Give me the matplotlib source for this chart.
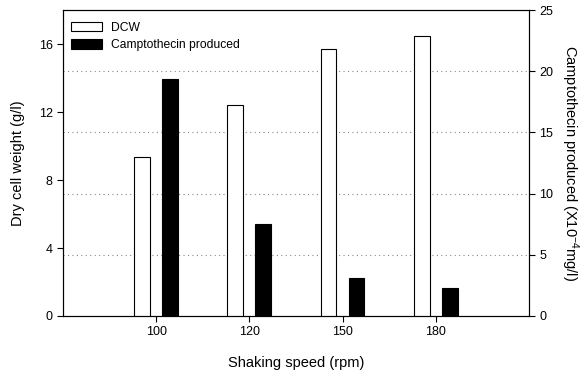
import matplotlib
matplotlib.use("Agg")
import matplotlib.pyplot as plt
import numpy as np

plt.rcParams['font.family'] = ['Liberation Sans', 'DejaVu Sans']
plt.rcParams['mathtext.fontset'] = 'custom'
plt.rcParams['mathtext.rm'] = 'Liberation Sans'
plt.rcParams['mathtext.it'] = 'Liberation Sans'

# data
speeds = ['100', '120', '150', '180']
dcw = [9.35, 12.4, 15.7, 16.5]          # g/l
camptothecin = [19.4, 7.5, 3.1, 2.3]    # x10^-4 mg/l

x = np.arange(1, len(speeds) + 1)
w = 0.17
off = 0.15

fig = plt.figure(figsize=(5.85, 3.76), dpi=100)
ax = fig.add_axes([0.1077, 0.1596, 0.7963, 0.8134])
ax2 = ax.twinx()

# grid from the right axis
for v in [5, 10, 15, 20]:
    ax2.axhline(v, color='#888888', lw=0.8, ls=(0, (1, 3)), zorder=0)

b1 = ax.bar(x - off, dcw, w, facecolor='white', edgecolor='black', lw=0.8, label='DCW')
b2 = ax2.bar(x + off, camptothecin, w, facecolor='black', edgecolor='black', lw=0.8,
             label='Camptothecin produced')

ax.set_xlim(0, 5)
ax.set_ylim(0, 18)
ax2.set_ylim(0, 25)
ax.set_yticks([0, 4, 8, 12, 16])
ax2.set_yticks([0, 5, 10, 15, 20, 25])
ax.set_xticks(x)
ax.set_xticklabels(speeds)

ax.set_zorder(ax2.get_zorder() + 1)
ax.patch.set_visible(False)

for a in (ax, ax2):
    a.tick_params(labelsize=9, length=4, width=0.8)
    for s in a.spines.values():
        s.set_linewidth(0.8)

ax.set_xlabel('Shaking speed (rpm)', fontsize=10.5, labelpad=13)
ax.set_ylabel('Dry cell weight (g/l)', fontsize=10.5, labelpad=10)
ax2.set_ylabel(r'Camptothecin produced (X10$^{-4}$mg/l)', fontsize=10.5,
               rotation=270, labelpad=20)

ax.legend([b1, b2], ['DCW', 'Camptothecin produced'], loc='upper left',
          bbox_to_anchor=(0.0, 0.99), frameon=False, fontsize=8.7,
          handlelength=2.5, handleheight=0.8, borderaxespad=0.3, labelspacing=0.45)

fig.savefig('out.png', dpi=100)
